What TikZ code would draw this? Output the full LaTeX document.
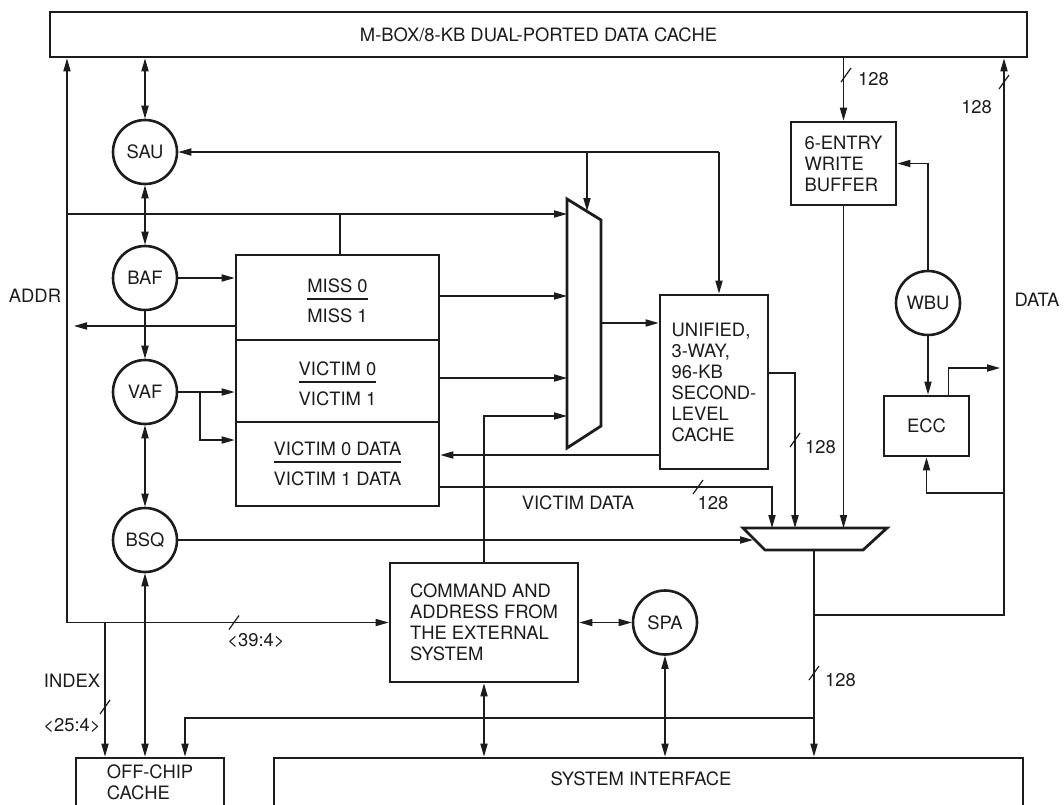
\documentclass[tikz,border=0pt]{standalone}
\usepackage{fontspec}
\setmainfont{TeX Gyre Heros}
\usetikzlibrary{arrows.meta,calc,positioning}
\definecolor{ink}{HTML}{1C1C1C}
\setlength{\arrayrulewidth}{.7pt}
\newcommand\pairtext[2]{\begin{tabular}[t]{@{}c@{}}#1\\\hline\rule{0pt}{11.5pt}#2\end{tabular}}
\tikzset{>={Triangle[length=6.5pt,width=3.6pt]},
  every node/.style={font=\fontsize{9.2}{10.5}\selectfont,text=ink},
  box/.style={draw=ink,line width=1.4pt,inner sep=0pt},
  unit/.style={circle,draw=ink,line width=1.3pt,minimum size=32pt,inner sep=0pt},
  wire/.style={draw=ink,line width=.6pt},
  muxline/.style={draw=ink,line width=1.4pt,line join=miter},
  divider/.style={draw=ink,line width=1.2pt},
  buscut/.pic={\draw[wire] (-5,7)--(5,-7);}}

\begin{document}
\begin{tikzpicture}[x=.5pt,y=-.5pt]
\useasboundingbox (0,0) rectangle (1064,804);\clip (0,0) rectangle (1064,804);

\node[box,minimum width=488.5pt,minimum height=22.5pt] (dcache) at (538.5,34.5) {M-BOX/8-KB DUAL-PORTED DATA CACHE};
\node[unit] (SAU) at (145,152) {SAU};\node[unit] (BAF) at (145,278) {BAF};
\node[unit] (VAF) at (145,392) {VAF};\node[unit] (BSQ) at (145,540) {BSQ};
\node[unit] (SPA) at (665,622.5) {SPA};\node[unit] (WBU) at (928,303) {WBU};

\node[box,minimum width=101.5pt,minimum height=125.5pt] (queue) at (337.5,380.5) {};
\draw[divider] (236,340)--(439,340) (236,422)--(439,422);
\node[anchor=base] (missq) at (337.5,292) {\pairtext{MISS 0}{MISS 1}};
\node[anchor=base] (victq) at (337.5,375) {\pairtext{VICTIM 0}{VICTIM 1}};
\node[anchor=base] (dataq) at (337.5,455) {\pairtext{VICTIM 0 DATA}{VICTIM 1 DATA}};

\coordinate (m1a) at (567,199);\coordinate (m1b) at (601,220);\coordinate (m1c) at (601,426);\coordinate (m1d) at (567,448);
\draw[muxline] (m1a)--(m1b)--(m1c)--(m1d)--cycle;
\coordinate (m2a) at (743,528);\coordinate (m2b) at (887,528);\coordinate (m2c) at (863,550);\coordinate (m2d) at (765,550);
\draw[muxline] (m2a)--(m2b)--(m2c)--(m2d)--cycle;

\node[box,minimum width=54pt,minimum height=87pt,align=left] (l2) at (714,382) {UNIFIED,\\3-WAY,\\96-KB\\SECOND-\\LEVEL\\CACHE};
\node[box,minimum width=52.5pt,minimum height=41.5pt,align=left] (wbuf) at (843.5,163.5) {6-ENTRY\\WRITE\\BUFFER};
\node[box,minimum width=42.5pt,minimum height=30pt] (ecc) at (926.5,426) {ECC};
\node[box,minimum width=94pt,minimum height=59.5pt,align=left] (cmd) at (484,622.5) {COMMAND AND\\ADDRESS FROM\\THE EXTERNAL\\SYSTEM};
\node[box,minimum width=74pt,minimum height=24pt,align=left] (offchip) at (150,782) {OFF-CHIP\\CACHE};
\node[box,minimum width=374.5pt,minimum height=32pt] (sysif) at (648.5,790) {};
\node (sitext) at (641,779) {SYSTEM INTERFACE};

% address side
\coordinate (acorner) at (67,622.5);\coordinate (abr) at (67,214);\coordinate (qtap) at (340,214);
\coordinate (addrtip) at (74,326);\coordinate (idx) at (105,622.5);
\draw[wire,->] (acorner)--(acorner |- dcache.south);\draw[wire,->] (acorner)--(cmd.west);
\draw[wire,->] (abr)--(m1a |- abr);\draw[wire] (qtap)--(qtap |- queue.north);
\draw[wire,->] (queue.west |- addrtip)--(addrtip);
\draw[wire,->] (idx)--(idx |- offchip.north);
\draw[wire,<->] (SAU.north)--(SAU.north |- dcache.south);\draw[wire,<->] (SAU.south)--(BAF.north);
\draw[wire,->] (BAF.south)--(VAF.north);\draw[wire,<->] (VAF.south)--(BSQ.north);
\draw[wire,<->] (BSQ.south)--(BSQ.south |- offchip.north);
\draw[wire,->] (BAF.east)--(BAF.east -| queue.west);\draw[wire,->] (VAF.east)--(VAF.east -| queue.west);
\coordinate (vbr) at (200,392);\draw[wire,->] (vbr) |- (queue.west |- 0,440);

% miss / victim paths
\coordinate (fb) at (719,152);\coordinate (sel) at (587,211);
\draw[wire,->] (fb)--(SAU.east);\draw[wire,->] (fb)--(fb |- l2.north);\draw[wire,->] (sel |- fb)--(sel);
\draw[wire,->] (queue.east |- 0,296)--(m1a |- 0,296);\draw[wire,->] (queue.east |- 0,378)--(m1a |- 0,378);
\draw[wire,->] (cmd.north) |- (m1a |- 0,416);
\draw[wire,->] (m1b |- 0,323)--(l2.west |- 0,323);
\draw[wire,->] (l2.west |- 0,455)--(queue.east |- 0,455);
\coordinate (vdo) at (772,528);\draw[wire,->] (queue.east |- 0,487) -| (vdo);
\coordinate (l2o) at (795,528);\draw[wire,->] (l2.east |- 0,373) -| (l2o);
\coordinate (m2l) at (753,540);\draw[wire,->] (BSQ.east)--(m2l);

% write buffer and data
\draw[wire,->] (wbuf.north |- dcache.south)--(wbuf.north);\draw[wire,->] (wbuf.south)--(wbuf.south |- m2a);
\draw[wire,->] (WBU.north) |- (wbuf.east);\draw[wire,->] (WBU.south)--(WBU.south |- ecc.north);
\coordinate (eout) at ($(ecc.north east)!.5!(ecc.north)$);\coordinate (dtip) at (1000,368);
\draw[wire,->] (eout) |- (dtip);
\coordinate (m2out) at (814,550);\coordinate (dbus) at (1004,615);\coordinate (efb) at (1004,493);\coordinate (ocf) at (185,718);
\draw[wire,->] (m2out |- dbus)--(dbus)--(dbus |- dcache.south);\draw[wire,->] (efb) -| (ecc.south);
\draw[wire,->] (m2out)--(m2out |- sysif.north);
\draw[wire,->] (m2out |- ocf)--(ocf)--(ocf |- offchip.north);
\draw[wire,<->] (cmd.south)--(cmd.south |- sysif.north);\draw[wire,<->] (SPA.south)--(SPA.south |- sysif.north);
\draw[wire,<->] (cmd.east)--(SPA.west);

% bus widths and labels
\pic at (846,75) {buscut};\pic at (1004,82) {buscut};\pic at (698,487) {buscut};\pic at (795,440) {buscut};
\pic at (814,673) {buscut};\pic at (234,622.5) {buscut};\pic at (105,707) {buscut};
\node[anchor=west] (w128a) at (851,79) {128};\node[anchor=east] (w128b) at (999,107) {128};
\node (w128c) at (713,503) {128};\node[anchor=west] (w128d) at (798,447) {128};
\node[anchor=west] (w128e) at (818,680) {128};
\node (addrlbl) at (35,296) {ADDR};\node (datalbl) at (1037,300) {DATA};
\node (vdlbl) at (578,503) {VICTIM DATA};\node (alo) at (256,641) {\textless 39:4\textgreater};
\node (idxlbl) at (72,681) {INDEX};\node (idxbits) at (72,726) {\textless 25:4\textgreater};
\end{tikzpicture}
\end{document}
